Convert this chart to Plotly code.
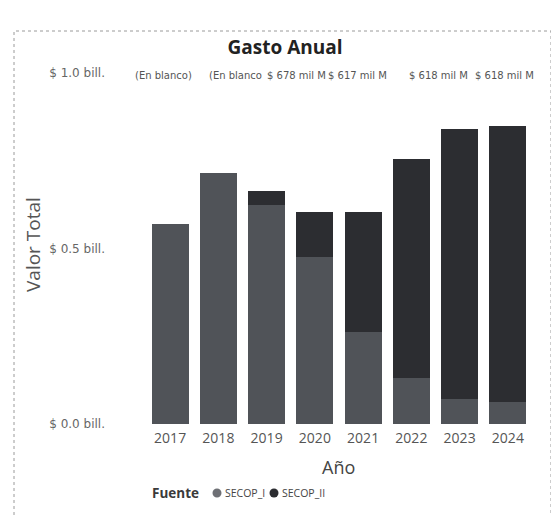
import plotly.graph_objects as go

# ---- data ----
years = ["2017", "2018", "2019", "2020", "2021", "2022", "2023", "2024"]
secop_i = [0.570, 0.715, 0.624, 0.476, 0.262, 0.131, 0.071, 0.063]
secop_ii = [0.0, 0.0, 0.040, 0.128, 0.342, 0.624, 0.769, 0.787]
y_tickvals = [0.0, 0.5, 1.0]
y_ticktext = ["$ 0.0 bill.", "$ 0.5 bill.", "$ 1.0 bill."]
top_labels = ["(En blanco)", "(En blanco", "$ 678 mil M", "$ 617 mil M", "$ 618 mil M", "$ 618 mil M"]
series_names = ["SECOP_I", "SECOP_II"]
legend_title = "Fuente"

# ---- layout geometry (screen pixels; page body has an 8px margin) ----
OFF = 8
W, H = 559 - OFF, 516 - OFF
L, R, T, B = 146, 532, 73, 424  # plot area in screen px


def px(xs):
    return (xs - L) / (R - L)


def py(ys):
    return (B - ys) / (B - T)


label_x_px = [133, 207, 265, 326, 407, 473]
legend_dot_x = [217, 274]
legend_text_x = [223, 280]
LEG_Y = 493
DOT_R = 4.5

C1 = "#505358"
C2 = "#2c2d31"
LEG1 = "#6e7075"
FONT = "Open Sans"
SMALL = "DejaVu Sans"

fig = go.Figure()
fig.add_trace(go.Bar(x=years, y=secop_i, name=series_names[0], marker_color=C1,
                     marker_line_width=0, showlegend=False))
fig.add_trace(go.Bar(x=years, y=secop_ii, name=series_names[1], marker_color=C2,
                     marker_line_width=0, showlegend=False))

annotations = []
for t, xs in zip(top_labels, label_x_px):
    annotations.append(dict(text=t, x=px(xs), y=py(75), xref="paper", yref="paper",
                            xanchor="left", yanchor="middle", showarrow=False,
                            font=dict(family=SMALL, size=10, color="#555555")))
annotations.append(dict(text="Valor Total", x=px(33), y=py(245), xref="paper", yref="paper",
                        textangle=-90, showarrow=False, xanchor="center", yanchor="middle",
                        font=dict(family=FONT, size=19, color="#555555")))
annotations.append(dict(text="Año", x=px(338), y=py(467), xref="paper", yref="paper",
                        showarrow=False, xanchor="center", yanchor="middle",
                        font=dict(family=FONT, size=18, color="#444444")))
annotations.append(dict(text=f"<b>{legend_title}</b>", x=px(150), y=py(LEG_Y), xref="paper",
                        yref="paper", showarrow=False, xanchor="left", yanchor="middle",
                        font=dict(family=FONT, size=13.5, color="#3a3a3a")))
for name, xs in zip(series_names, legend_text_x):
    annotations.append(dict(text=name, x=px(xs), y=py(LEG_Y), xref="paper", yref="paper",
                            showarrow=False, xanchor="left", yanchor="middle",
                            font=dict(family=FONT, size=10.5, color="#444444")))

shapes = [
    dict(type="rect", xref="paper", yref="paper", x0=px(14), x1=px(551), y0=py(600), y1=py(31),
         line=dict(color="#9a9a9a", width=1, dash="dot"), fillcolor="rgba(0,0,0,0)", layer="below"),
]
for col, xs in zip([LEG1, C2], legend_dot_x):
    shapes.append(dict(type="circle", xref="paper", yref="paper",
                       x0=px(xs - DOT_R), x1=px(xs + DOT_R),
                       y0=py(LEG_Y + DOT_R), y1=py(LEG_Y - DOT_R),
                       fillcolor=col, line=dict(width=0)))

fig.update_layout(
    width=W, height=H,
    margin=dict(l=L - OFF, r=W - (R - OFF), t=T - OFF, b=H - (B - OFF), pad=0),
    barmode="stack", bargap=0.23,
    paper_bgcolor="white", plot_bgcolor="white",
    title=dict(text="<b>Gasto Anual</b>", x=(285 - OFF) / W, y=1 - (47 - OFF) / H,
               xref="container", yref="container",
               xanchor="center", yanchor="middle", font=dict(family=FONT, size=19, color="#222222")),
    xaxis=dict(type="category", showgrid=False, showline=False, zeroline=False, ticks="",
               ticklabelstandoff=4,
               tickfont=dict(family=FONT, size=14, color="#555555")),
    yaxis=dict(range=[0, 1.0], tickvals=y_tickvals, ticktext=y_ticktext, showgrid=False,
               zeroline=False, showline=False, ticks="", ticklabelstandoff=40,
               tickfont=dict(family=SMALL, size=12, color="#666666")),
    showlegend=False,
    annotations=annotations,
    shapes=shapes,
)

fig.write_html("out.html")
